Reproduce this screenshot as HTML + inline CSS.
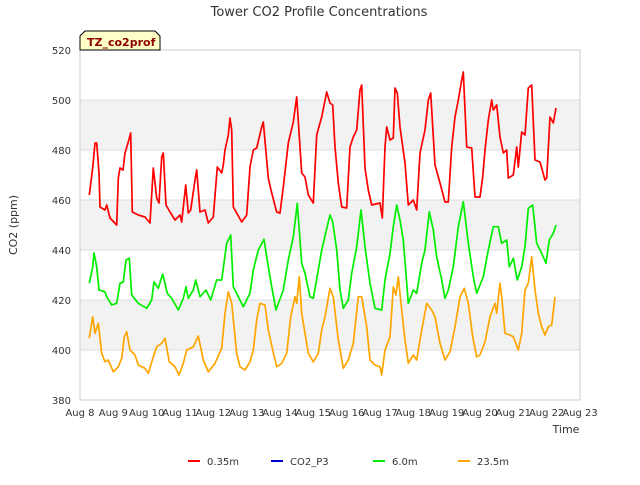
<!DOCTYPE html>
<html><head><meta charset="utf-8"><style>
body{margin:0;background:#fff;font-family:"Liberation Sans","DejaVu Sans",sans-serif;}
svg text{font-family:"DejaVu Sans","Liberation Sans",sans-serif;}
</style></head><body>
<svg id="chart" width="640" height="480" viewBox="0 0 640 480" xmlns="http://www.w3.org/2000/svg">
<text x="319" y="16" text-anchor="middle" font-size="13" fill="#333">Tower CO2 Profile Concentrations</text>
<g id="bands"></g>
<g id="grid"></g>
<rect x="80" y="50" width="500" height="350" fill="none" stroke="#ccc"/>
<g id="series"></g>
<g id="yticks"></g>
<g id="xticks"></g>
<text x="17" y="225" transform="rotate(-90 17 225)" text-anchor="middle" font-size="11" fill="#333">CO2 (ppm)</text>
<text x="566" y="433" text-anchor="middle" font-size="11" fill="#333">Time</text>
<g>
<path d="M80,50 L80,36 L85,31 L155,31 L160,36 L160,50 Z" fill="#ffffc8" stroke="#000" stroke-width="1"/>
<text x="87" y="46" font-size="11" font-weight="bold" fill="#8b0000">TZ_co2prof</text>
</g>
<g id="legend"></g>
</svg>
<script>
const NS='http://www.w3.org/2000/svg';
const yTicks=[380,400,420,440,460,480,500,520];
const xTickLabels=['Aug 8','Aug 9','Aug 10','Aug 11','Aug 12','Aug 13','Aug 14','Aug 15','Aug 16','Aug 17','Aug 18','Aug 19','Aug 20','Aug 21','Aug 22','Aug 23'];
const seriesNames=['0.35m','CO2_P3','6.0m','23.5m'];
const seriesColors=['#ff0000','#0000cc','#00ee00','#ffa500'];
const redT=[0.28,0.38,0.45,0.50,0.57,0.60,0.75,0.80,0.90,1.10,1.15,1.20,1.29,1.35,1.44,1.52,1.57,1.75,1.95,2.10,2.20,2.30,2.37,2.45,2.50,2.58,2.70,2.85,3.00,3.05,3.17,3.25,3.32,3.45,3.50,3.60,3.75,3.85,4.00,4.12,4.25,4.30,4.35,4.45,4.50,4.55,4.60,4.70,4.85,5.00,5.10,5.20,5.30,5.45,5.50,5.65,5.75,5.90,6.00,6.10,6.25,6.40,6.50,6.65,6.75,6.85,7.00,7.10,7.25,7.40,7.50,7.58,7.65,7.75,7.85,8.00,8.10,8.20,8.30,8.40,8.45,8.55,8.65,8.75,9.00,9.07,9.15,9.20,9.30,9.40,9.45,9.52,9.60,9.75,9.85,10.00,10.10,10.20,10.35,10.45,10.52,10.65,10.80,10.95,11.05,11.15,11.25,11.35,11.45,11.50,11.60,11.75,11.85,12.00,12.08,12.15,12.25,12.35,12.40,12.50,12.60,12.70,12.80,12.85,13.00,13.10,13.15,13.25,13.35,13.45,13.55,13.65,13.80,13.95,14.00,14.10,14.20,14.28];
const redV=[462,472.8,482.8,482.8,470.8,457.2,456,458,452.8,450,468.8,472.8,472,478.8,482.8,486.8,455.2,454,453.2,450.8,472.8,460.8,458.8,477.2,478.8,458,455.2,452,454,451.2,466,454.8,456,468,472,455.2,456,450.8,453.2,473.2,470.8,474,480,486,492.8,488,457.2,454.8,451.2,454,473.2,480,480.8,489.2,491.2,468.8,462.8,455.2,454.8,465.2,482.8,491.2,501.2,470.8,469.2,462,458.8,486,493.2,503.2,498.8,498,481.2,466.8,457.2,456.8,481.2,485.2,488,504,506,472.8,464,458,458.8,452.8,481.2,489.2,484,484.8,504.8,502.8,489.2,474.8,458,460,456,478.8,488,500,502.8,474,466.8,459.2,459.2,481.2,493.2,500,508,511.2,481.2,480.8,461.2,461.2,469.2,480,492,500,496,498,485.2,478.8,480,468.8,470,481.2,473.2,487.2,486,504.8,506,476,475.2,468,468.8,493.2,490.8,496.8];
const greenT=[0.28,0.38,0.42,0.50,0.57,0.75,0.80,0.95,1.10,1.20,1.30,1.38,1.48,1.55,1.75,2.00,2.15,2.22,2.35,2.48,2.62,2.75,2.95,3.10,3.18,3.25,3.40,3.47,3.60,3.78,3.92,4.10,4.25,4.40,4.52,4.60,4.75,4.90,5.10,5.20,5.35,5.52,5.65,5.75,5.88,6.10,6.25,6.40,6.52,6.65,6.75,6.90,7.00,7.15,7.25,7.38,7.50,7.58,7.70,7.80,7.90,8.05,8.15,8.30,8.43,8.55,8.70,8.85,9.05,9.15,9.30,9.40,9.50,9.60,9.70,9.85,10.00,10.10,10.25,10.35,10.48,10.60,10.70,10.85,10.95,11.05,11.20,11.35,11.50,11.65,11.80,11.90,12.10,12.25,12.40,12.55,12.65,12.80,12.88,13.00,13.12,13.25,13.35,13.45,13.58,13.70,13.85,13.98,14.08,14.20,14.28];
const greenV=[426.7,433.3,438.9,433.3,424,423.3,421.3,418,418.7,426.7,427.3,436,436.7,422,418.7,416.7,420,427.3,424.7,430.4,422.7,420.7,416,420.7,425.3,420.7,424,428,421.3,424,420,428,428,442.7,446,425.3,421.3,417.3,422.7,432,440,444.3,433.3,425.3,416,424,436,445.3,458.7,434.7,430.7,421.3,420.7,432,440,447.3,454,451.3,440,424,416.7,420,430.7,441.3,456,441.3,426.7,416.7,416,428,438.7,449.3,458,452,444,418.7,424,422.7,434.7,440,455.3,448,437.3,428,420.7,424,433.3,449.3,459.3,442.7,429.3,422.7,429.3,440,449.3,449.3,442.7,444,433.3,436.7,428,433.3,441.3,456.7,458,442.7,438.7,434.7,444,446.7,450];
const orangeT=[0.28,0.38,0.45,0.55,0.65,0.75,0.85,1.00,1.15,1.25,1.33,1.40,1.50,1.65,1.75,1.95,2.05,2.20,2.30,2.45,2.55,2.68,2.85,2.97,3.10,3.20,3.40,3.55,3.70,3.85,4.05,4.25,4.35,4.45,4.55,4.70,4.80,4.95,5.10,5.20,5.30,5.40,5.55,5.65,5.78,5.90,6.05,6.20,6.32,6.45,6.50,6.58,6.65,6.75,6.85,7.00,7.15,7.25,7.35,7.50,7.60,7.75,7.90,8.05,8.20,8.35,8.45,8.60,8.70,8.85,9.00,9.05,9.15,9.30,9.40,9.48,9.55,9.65,9.75,9.85,10.00,10.10,10.25,10.40,10.55,10.65,10.80,10.95,11.10,11.25,11.40,11.53,11.65,11.78,11.90,12.00,12.15,12.30,12.45,12.50,12.60,12.65,12.75,12.90,13.00,13.15,13.25,13.35,13.45,13.55,13.65,13.75,13.85,13.95,14.05,14.15,14.25];
const orangeV=[404.7,413.3,406.7,410.7,398.7,395.3,396,391.3,393.3,396.7,405.3,407.3,400,398,394,392.7,390.7,397.3,401.3,402.7,404.7,395.3,393.3,390,394.7,400,401.3,405.6,396,391.3,394.7,400.7,414.7,423.3,418.7,398.7,393.3,392,395.3,400,412,418.7,418,408,400,393.3,394.7,398.7,413.3,421.3,418.7,429.3,414.7,406.7,398.7,395.3,398.7,408,413.3,424.7,421.3,404,392.7,396,402.7,421.3,421.3,409.3,396,394,393.3,390,400,405.3,425.3,422,429.3,416,404,394.7,398,396,408,418.7,416,413.3,402.7,396,399.3,409.3,421.3,424.7,418.7,405.3,397.3,398,403.3,413.3,418.7,414.7,426.7,421.3,406.7,406,405.3,400,406.7,424,426.7,437.3,424,414.7,409.3,406,409.3,410,421.3];

const x0=80,x1=580,y0=400,y1=50;
const xs=d=>x0+d*(x1-x0)/15;
const ys=v=>y0-(v-380)*(y0-y1)/140;
const svg=document.getElementById('chart');
function mk(tag,attrs,parent){const e=document.createElementNS(NS,tag);for(const k in attrs)e.setAttribute(k,attrs[k]);parent.appendChild(e);return e;}

const bands=document.getElementById('bands');
[[400,420],[440,460],[480,500]].forEach(b=>{
  const r=mk('rect',{x:x0,y:ys(b[1]),width:x1-x0,height:ys(b[0])-ys(b[1]),fill:'#f2f2f2'},bands);
  
  
});
const grid=document.getElementById('grid');
const yt=document.getElementById('yticks');
yTicks.forEach(v=>{
  const l=mk('line',{x1:x0,x2:x1,y1:ys(v),y2:ys(v),stroke:'#dcdcdc','stroke-width':1},grid);
  
  
  const t=mk('text',{x:x0-9,y:ys(v)+4,'text-anchor':'end','font-size':10,fill:'#333'},yt);
  t.textContent=v;
  
  
});
const xt=document.getElementById('xticks');
xTickLabels.forEach((s,i)=>{
  const t=mk('text',{x:xs(i),y:416,'text-anchor':'middle','font-size':10,fill:'#333'},xt);
  t.textContent=s;
  
  
});
const sg=document.getElementById('series');
function drawLine(T,V,color,name){
  const p=mk('polyline',{points:T.map((t,i)=>xs(t).toFixed(1)+','+ys(V[i]).toFixed(1)).join(' '),fill:'none',stroke:color,'stroke-width':1.7,'stroke-linejoin':'round'},sg);
  
  
}
drawLine(orangeT,orangeV,seriesColors[3],'series-23-5m');
drawLine(greenT,greenV,seriesColors[2],'series-6-0m');
drawLine(redT,redV,seriesColors[0],'series-0-35m');

const lg=document.getElementById('legend');
const lx=[188,271,373,458];
seriesNames.forEach((n,i)=>{
  const g=mk('g',{},lg);
  
  
  mk('line',{x1:lx[i],x2:lx[i]+12,y1:461,y2:461,stroke:seriesColors[i],'stroke-width':2},g);
  const t=mk('text',{x:lx[i]+19,y:465,'font-size':10,fill:'#333'},g);
  t.textContent=n;
});
</script>
</body></html>
